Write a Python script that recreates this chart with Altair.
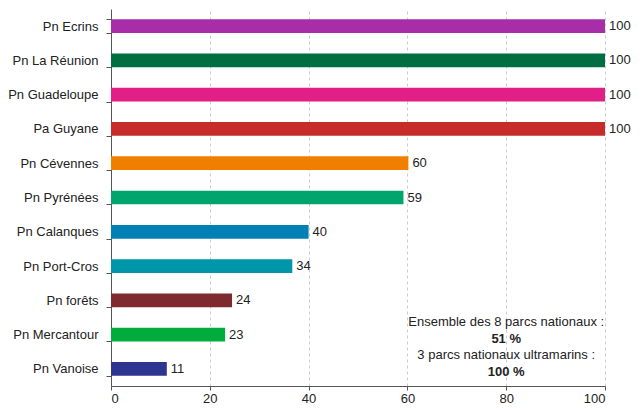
import altair as alt
import pandas as pd

parks = ["Pn Ecrins", "Pn La Réunion", "Pn Guadeloupe", "Pa Guyane", "Pn Cévennes",
         "Pn Pyrénées", "Pn Calanques", "Pn Port-Cros", "Pn forêts", "Pn Mercantour", "Pn Vanoise"]
bar_values = [100, 100, 100, 100, 60.2, 59.2, 40, 36.7, 24.5, 23.1, 11.3]
labels = ["100", "100", "100", "100", "60", "59", "40", "34", "24", "23", "11"]
colors = ["#A72EA8", "#006E41", "#E21F86", "#C62D2A", "#F07F00", "#00A56E",
          "#0080B4", "#0096AA", "#7F2A2F", "#00AD3C", "#2E3590"]
note_lines = ["Ensemble des 8 parcs nationaux :", "51 %", "3 parcs nationaux ultramarins :", "100 %"]
note_bold = [False, True, False, True]

df = pd.DataFrame({"park": parks, "value": bar_values, "label": labels, "color": colors})

FONT = "Liberation Sans"
TXT = "#222222"

y_enc = alt.Y("park:N", sort=parks, title=None,
              scale=alt.Scale(paddingInner=0.6, paddingOuter=0.3),
              axis=alt.Axis(tickBand="extent", labelFont=FONT, labelFontSize=13,
                            labelColor=TXT, domainColor="#555555", tickColor="#555555",
                            tickSize=5, labelPadding=8, grid=False))
x_enc = alt.X("value:Q", title=None,
              scale=alt.Scale(domain=[0, 100], nice=False),
              axis=alt.Axis(values=[0, 20, 40, 60, 80, 100], labelFont=FONT, labelFontSize=13,
                            labelColor=TXT, domainColor="#555555", tickColor="#555555",
                            tickSize=4, grid=True, gridDash=[3, 3], gridColor="#cccccc",
                            labelPadding=2))

bars = alt.Chart(df).mark_bar().encode(
    x=x_enc, y=y_enc,
    color=alt.Color("color:N", scale=None, legend=None),
)
text = alt.Chart(df).mark_text(align="left", baseline="middle", dx=4, font=FONT,
                               fontSize=13, color=TXT).encode(
    x="value:Q", y=alt.Y("park:N", sort=parks), text="label:N")

note_df = pd.DataFrame({"line": note_lines, "bold": note_bold, "x": [80] * 4})
note_y = [313, 329.5, 346, 362.5]
notes = []
for i, b in enumerate(note_bold):
    notes.append(alt.Chart(note_df.iloc[[i]]).mark_text(
        align="center", baseline="middle", font=FONT, fontSize=13, color=TXT,
        fontWeight="bold" if b else "normal").encode(
        x="x:Q", y=alt.value(note_y[i]), text="line:N"))

chart = alt.layer(bars, text, *notes).properties(
    width=494, height=377,
    autosize=alt.AutoSizeParams(type="none"),
    padding={"left": 103, "top": 1, "right": 26, "bottom": 18},
).configure_view(stroke=None)

chart.save("out.html", embed_options={"renderer": "svg", "actions": False})
